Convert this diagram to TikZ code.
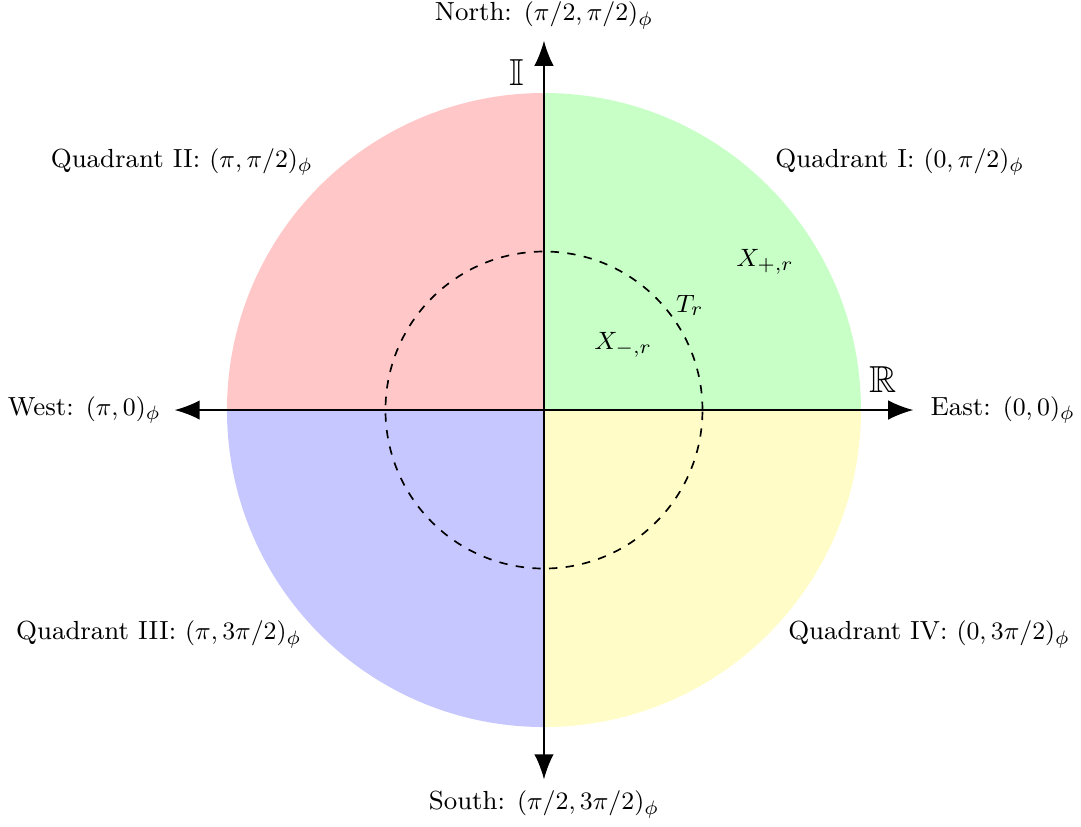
\documentclass[tikz,border=0pt]{standalone}
\usepackage{amssymb}
\usetikzlibrary{arrows.meta}
\tikzset{
  axis/.style={semithick,-{Latex[length=9pt,width=7pt]}},
  lab/.style={inner sep=2pt},
  every node/.append style={font=\fontsize{9.4pt}{11.3pt}\selectfont},
  big/.style={font=\fontsize{13.5pt}{16pt}\selectfont}
}
\begin{document}
\begin{tikzpicture}
\useasboundingbox (-6.864,-5.249) rectangle (6.776,5.174);
\fill[green!22] (0,0) -- (4,0) arc (0:90:4) -- cycle;
\fill[red!22] (0,0) -- (0,4) arc (90:180:4) -- cycle;
\fill[blue!22] (0,0) -- (-4,0) arc (180:270:4) -- cycle;
\fill[yellow!22] (0,0) -- (0,-4) arc (270:360:4) -- cycle;
\draw[semithick,dashed] (0,0) circle (2);
\coordinate (O) at (0,0);
\coordinate (E) at (4.66,0);
\coordinate (W) at (-4.66,0);
\coordinate (N) at (0,4.66);
\coordinate (S) at (0,-4.66);
\draw[axis] (O) -- (E);
\draw[axis] (O) -- (W);
\draw[axis] (O) -- (N);
\draw[axis] (O) -- (S);
\node[lab,anchor=west] (east) at (4.80,0) {East: $(0,0)_\phi$};
\node[lab,anchor=east] (west) at (-4.76,0) {West: $(\pi,0)_\phi$};
\node[lab] (north) at (0,4.98) {North: $(\pi/2,\pi/2)_\phi$};
\node[lab] (south) at (0,-4.98) {South: $(\pi/2,3\pi/2)_\phi$};
\node[big] (II) at (-0.34,4.26) {$\mathbb{I}$};
\node[big] (RR) at (4.28,0.38) {$\mathbb{R}$};
\node (q1) at (4.49,3.13) {Quadrant I: $(0,\pi/2)_\phi$};
\node (q2) at (-4.57,3.13) {Quadrant II: $(\pi,\pi/2)_\phi$};
\node (q3) at (-4.86,-2.83) {Quadrant III: $(\pi,3\pi/2)_\phi$};
\node (q4) at (4.86,-2.83) {Quadrant IV: $(0,3\pi/2)_\phi$};
\node (xp) at (2.79,1.87) {$X_{+,r}$};
\node (tr) at (1.84,1.32) {$T_r$};
\node (xm) at (1.0,0.82) {$X_{-,r}$};
\end{tikzpicture}
\end{document}
